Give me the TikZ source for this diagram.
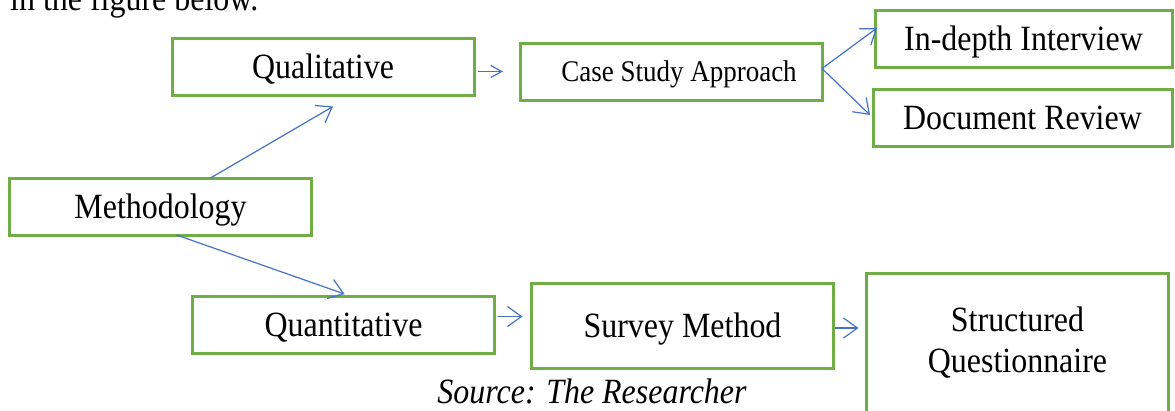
\documentclass[tikz,border=0pt]{standalone}
\usepackage{fontspec}
\setmainfont{Liberation Serif}[FakeStretch=0.9]
\usetikzlibrary{arrows.meta,positioning,calc}
\definecolor{boxgreen}{RGB}{112,173,71}
\definecolor{linkblue}{RGB}{68,114,196}

\begin{document}
\begin{tikzpicture}[
  x=1pt, y=-1pt,
  box/.style={rectangle, draw=boxgreen, line width=3pt, outer sep=0pt, inner sep=0pt, minimum width=302pt, minimum height=57pt, font=\fontsize{35.5}{40}\selectfont, align=center, text height=23pt, text depth=0pt},
  arrow/.style={draw=linkblue, line width=1.2pt, -{Straight Barb[length=14pt, width=20pt]}},
  smallarrow/.style={arrow, -{Straight Barb[length=11pt, width=12pt]}},
  note/.style={font=\fontsize{35.5}{40}\selectfont, inner sep=0pt},
]
\useasboundingbox (0,0) rectangle (1175,410);

% text above the figure
\node[note, anchor=base west] (intro) at (10,10) {in the figure below.};

% Methodology
\node[box] (method) at (160.5,206.5) {Methodology};

% Qualitative branch
\node[box] (qual) at (323,67) {Qualitative};
\node[box, right=46pt of qual, yshift=-4.5pt, font=\fontsize{30}{35}\selectfont, text height=20pt] (case) {\hspace*{16pt}Case Study Approach};
\node[box, minimum width=297pt] (indepth) at (1023.5,39) {In-depth Interview};
\node[box, minimum width=299pt, below=22pt of indepth, xshift=-1pt] (docrev) {Document Review};

% Quantitative branch
\node[box] (quant) at (343.5,324.5) {Quantitative};
\node[box, minimum height=85pt, right=37pt of quant, yshift=-1pt] (survey) {Survey Method};
\node[box, minimum height=140pt, right=33pt of survey, yshift=-17.5pt, text height={}, text depth={}, font=\fontsize{35.5}{41}\selectfont] (struct) {Structured\\Questionnaire};

% Source
\node[note, font=\fontsize{35.5}{40}\selectfont\itshape, anchor=base] (source) at (592,403) {Source: The Researcher};

% Arrows
\draw[arrow] ([xshift=50pt]method.north) -- ([xshift=10pt, yshift=-11pt]qual.south);
\draw[arrow] ([xshift=16pt]method.south) -- ([xshift=1pt, yshift=2pt]quant.north);
\draw[smallarrow, shorten <=4pt, shorten >=17pt] (qual.east |- case.west) -- (case.west);
\draw[arrow] ([yshift=3pt]case.east) -- ([xshift=2pt, yshift=11pt]indepth.west);
\draw[arrow] ([yshift=3pt]case.east) -- ([xshift=-3pt, yshift=3pt]docrev.west);
\draw[arrow, shorten <=3pt, shorten >=9pt] ($(quant.east)+(0,-8)$) -- ($(survey.west)+(0,-9)$);
\draw[arrow, shorten <=1pt, shorten >=8pt] ($(survey.east)+(0,2.5)$) -- ($(struct.west |- survey.east)+(0,2.5)$);

\end{tikzpicture}
\end{document}
